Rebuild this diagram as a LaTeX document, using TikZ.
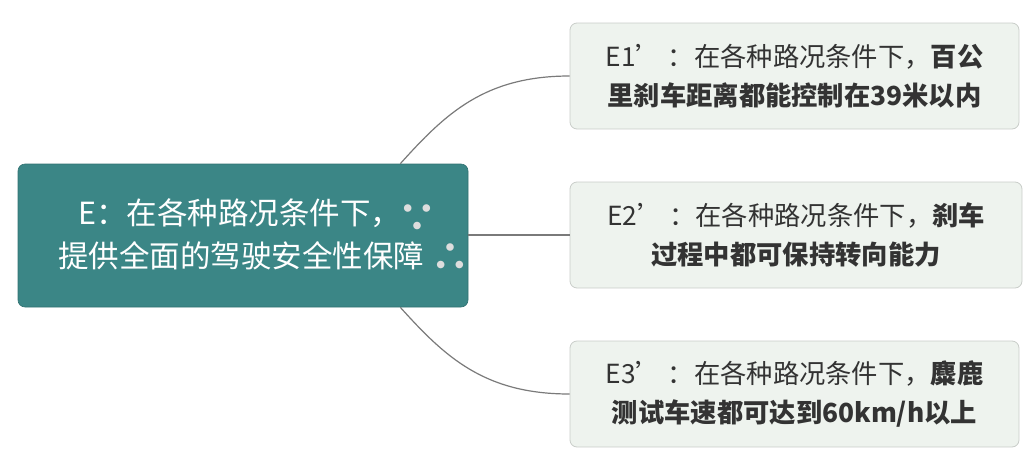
\documentclass[tikz,border=0pt]{standalone}
\usepackage{fontspec}
\setmainfont{Noto Sans CJK SC}
\usetikzlibrary{calc}
\definecolor{rootfill}{HTML}{3B8686}
\definecolor{kidfill}{HTML}{EEF3EE}
\definecolor{kidline}{HTML}{C9CDC9}
\definecolor{txt}{HTML}{333333}
\definecolor{dots}{HTML}{DDDDDD}
\definecolor{conn}{HTML}{7A7A7A}
\newcommand{\becausedots}{\raisebox{-8pt}{\bfseries\fontsize{40pt}{43pt}\selectfont\color{dots}∵}}
\newcommand{\thereforedots}{\raisebox{-4pt}{\bfseries\fontsize{40pt}{43pt}\selectfont\color{dots}∴}}
\tikzset{
  rootbox/.style={draw=rootfill!85!black, line width=0.6pt, fill=rootfill, rounded corners=7pt,
    minimum width=450pt, minimum height=143pt, text=white, align=center,
    font=\fontsize{30.5pt}{43pt}\selectfont, inner sep=0pt},
  kidbox/.style={draw=kidline, line width=0.8pt, fill=kidfill, rounded corners=7pt,
    minimum height=106pt, text=txt, align=center,
    font=\fontsize{26.3pt}{39pt}\selectfont, inner sep=0pt},
  link/.style={draw=conn, line width=1.2pt}
}
\begin{document}
\begin{tikzpicture}[x=1pt,y=-1pt]
\useasboundingbox (0,0) rectangle (1029,464);
\node[rootbox] (root) at (243,235.5) {\makebox[0pt]{\hspace*{30pt}E：在各种路况条件下，\hspace{-4pt}\becausedots}\\\makebox[0pt]{\hspace*{42pt}提供全面的驾驶安全性保障\hspace{6pt}\thereforedots}};
\node[kidbox, minimum width=449pt] (c1) at (794.5,76) {E1’ ：在各种路况条件下，\textbf{百公}\\\textbf{里刹车距离都能控制在39米以内}};
\node[kidbox, minimum width=452pt] (c2) at (796,235) {E2’ ：在各种路况条件下，\textbf{刹车}\\\textbf{过程中都可保持转向能力}};
\node[kidbox, minimum width=449pt] (c3) at (794.5,394) {E3’ ：在各种路况条件下，\textbf{麋鹿}\\\textbf{测试车速都可达到60km/h以上}};
\coordinate (s1) at ([xshift=-68pt]root.north east);
\coordinate (s3) at ([xshift=-68pt]root.south east);
\draw[link] (s1) .. controls ($(s1)+(45,-50)$) and ($(c1.west)+(-85,0)$) .. (c1.west);
\draw[link] (root.east |- c2.west) -- (c2.west);
\draw[link] (s3) .. controls ($(s3)+(45,50)$) and ($(c3.west)+(-85,0)$) .. (c3.west);
\end{tikzpicture}
\end{document}
